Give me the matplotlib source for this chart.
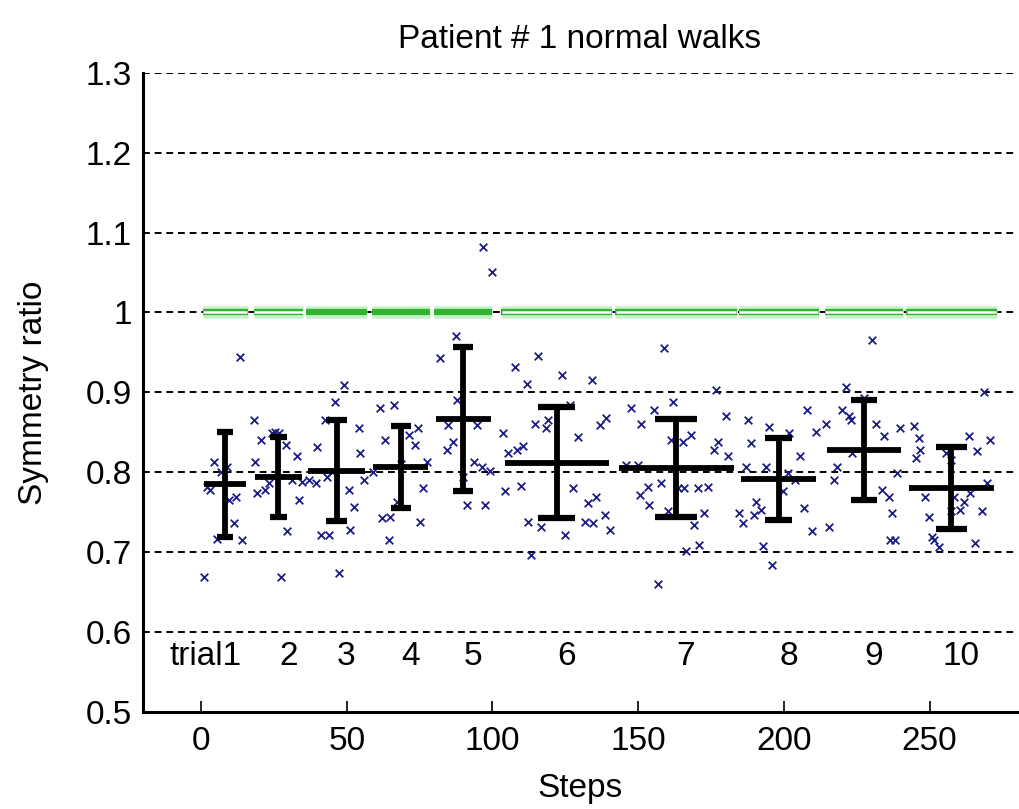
import matplotlib
matplotlib.use('Agg')
import matplotlib.pyplot as plt
import numpy as np

plt.rcParams['font.family'] = ['Liberation Sans Narrow', 'Liberation Sans', 'DejaVu Sans']

# per-step symmetry ratios, one line per trial
steps = [
    1, 2, 3, 4.5, 5.6, 7, 9, 9.6, 11.3, 11.9, 13.3, 13.9,
    18.2, 18.5, 19.3, 20.4, 22.1, 23.3, 24.4, 25.5, 26.7, 27.6, 29.0, 29.6, 31.3, 33.0, 33.6, 34.7,
    37, 39.3, 39.8, 41, 42.7, 43.3, 43.8, 45, 46.1, 47.3, 49, 50.7, 51.2, 52.4, 54.1, 54.7, 56,
    59, 61.5, 62.1, 63.2, 64.4, 65, 66.1, 67.2, 68.5, 71.2, 73.5, 74.6, 75.2, 76.3, 77.5,
    82, 84.3, 84.9, 86.6, 87.5, 87.7, 90, 91.2, 93.5, 94.6, 96.3, 96.9, 97.4, 99.1, 99.7,
    103.5, 104.3, 105.2, 107.7, 108.3, 109.8, 110.6, 111.7, 112.3, 113.2, 114.5, 115.5, 116.6, 118.5,
    119.1, 123.7, 124.8, 126.5, 127.7, 129.4, 131.7, 132.8, 134, 134.5, 135.7, 136.8, 138.5, 139, 140.2,
    146, 147.4, 150, 150.5, 151.1, 153.3, 153.8, 155.6, 156.8, 157.9, 159, 160.2, 161.3, 161.9, 163.6,
    165.3, 165.9, 166.3, 168.2, 169.3, 170.5, 171, 172.7, 173.9, 176.1, 176.7, 177.3, 180.2, 180.7,
    184.7, 185.9, 187, 187.6, 188.7, 189.8, 190.4, 192.1, 192.7, 193.9, 195, 196.1, 199.6, 201.4,
    201.8, 203.8, 205.5, 207, 208.1, 209.8, 211,
    214.4, 215.5, 217.2, 218.4, 220, 221.2, 222.4, 222.9, 223.5, 227.5, 230.3, 231.5, 233.8, 234.3,
    236, 236.4, 237.2, 238.1, 238.9, 240,
    244.6, 245.2, 246.3, 246.9, 248.4, 249.7, 250.9, 251.4, 253.1, 255.6, 257.2, 257.3, 258.3, 260.5,
    261.7, 263.4, 264, 265.7, 266.3, 268, 268.6, 269.7, 270.8,
]
ratios = [
    0.669, 0.782, 0.778, 0.813, 0.716, 0.800, 0.807, 0.765, 0.736, 0.769, 0.944, 0.715,
    0.865, 0.813, 0.774, 0.840, 0.778, 0.786, 0.849, 0.851, 0.849, 0.669, 0.834, 0.726, 0.790, 0.820, 0.765, 0.788,
    0.790, 0.786, 0.832, 0.722, 0.865, 0.794, 0.722, 0.800, 0.888, 0.674, 0.909, 0.778, 0.728, 0.757, 0.855, 0.824, 0.790,
    0.800, 0.880, 0.743, 0.840, 0.715, 0.744, 0.884, 0.763, 0.810, 0.847, 0.834, 0.855, 0.738, 0.780, 0.813,
    0.943, 0.828, 0.859, 0.838, 0.971, 0.890, 0.794, 0.759, 0.813, 0.859, 0.807, 1.082, 0.759, 0.801, 1.051,
    0.849, 0.776, 0.824, 0.932, 0.828, 0.783, 0.833, 0.911, 0.738, 0.697, 0.861, 0.946, 0.732, 0.855,
    0.865, 0.922, 0.722, 0.884, 0.780, 0.844, 0.738, 0.761, 0.915, 0.736, 0.769, 0.859, 0.747, 0.868, 0.728,
    0.809, 0.880, 0.809, 0.772, 0.861, 0.782, 0.759, 0.878, 0.660, 0.786, 0.956, 0.751, 0.840, 0.888, 0.780,
    0.838, 0.780, 0.701, 0.847, 0.734, 0.780, 0.709, 0.749, 0.782, 0.828, 0.903, 0.838, 0.870, 0.820,
    0.749, 0.736, 0.807, 0.865, 0.836, 0.747, 0.763, 0.753, 0.708, 0.807, 0.857, 0.684, 0.776, 0.799,
    0.849, 0.790, 0.820, 0.755, 0.878, 0.726, 0.851,
    0.860, 0.732, 0.790, 0.807, 0.878, 0.907, 0.870, 0.865, 0.824, 0.893, 0.966, 0.861, 0.778, 0.845,
    0.769, 0.715, 0.749, 0.715, 0.799, 0.855,
    0.858, 0.818, 0.843, 0.828, 0.769, 0.744, 0.719, 0.715, 0.707, 0.824, 0.815, 0.751, 0.769, 0.753,
    0.763, 0.845, 0.774, 0.712, 0.826, 0.752, 0.901, 0.786, 0.840,
]

trial_labels = ['trial1', '2', '3', '4', '5', '6', '7', '8', '9', '10']
trial_start = [0.5, 18, 36, 58.5, 80, 103, 142, 184.5, 214, 242]
trial_end = [16, 35, 57, 78.5, 100, 141, 184, 212, 241, 273]
trial_mean = [0.785, 0.794, 0.802, 0.807, 0.867, 0.812, 0.805, 0.792, 0.828, 0.780]
trial_sd = [0.066, 0.050, 0.0635, 0.0515, 0.090, 0.0695, 0.0615, 0.0515, 0.063, 0.0515]
solid_ref = [False, False, True, True, True, False, False, False, False, False]

fig = plt.figure(figsize=(10.2, 8.09), dpi=100)
ax = fig.add_axes([0.140, 0.120, 0.857, 0.790])

# horizontal dotted grid
for yv in np.arange(0.6, 1.31, 0.1):
    ax.axhline(yv, color='black', lw=1.4, ls=(0, (3.5, 2.5)), zorder=1)

ax.scatter(steps, ratios, marker='x', s=30, color='#1c1c86', linewidths=1.3, zorder=3)

for i in range(len(trial_labels)):
    s, e = trial_start[i], trial_end[i]
    c = (s + e) / 2.0
    L = e - s
    m, sd = trial_mean[i], trial_sd[i]

    # reference ratio of 1 over the trial
    ax.plot([s, e], [1.0, 1.0], color='#c8f0c8', lw=9, solid_capstyle='butt', zorder=2)
    ax.plot([s, e], [1.0, 1.0], color='#2fb52f', lw=4.5, solid_capstyle='butt', zorder=2)
    if not solid_ref[i]:
        ax.plot([s + 0.01 * L, e - 0.01 * L], [1.0, 1.0], color='white', lw=1.8,
                solid_capstyle='butt', zorder=2)

    # mean and standard deviation
    ax.plot([s + 0.03 * L, e - 0.03 * L], [m, m], color='black', lw=4.2, solid_capstyle='butt', zorder=4)
    ax.plot([c, c], [m - sd, m + sd], color='black', lw=4.2, solid_capstyle='butt', zorder=4)
    cap = 0.17 * L
    for yv in (m - sd, m + sd):
        ax.plot([c - cap, c + cap], [yv, yv], color='black', lw=4.5, solid_capstyle='butt', zorder=4)

    if i == 0:
        ax.text(c + 5.8, 0.569, trial_labels[i], ha='right', va='center', fontsize=24)
    else:
        ax.text(c + 3.4, 0.569, trial_labels[i], ha='center', va='center', fontsize=24)

ax.set_xlim(-20, 280)
ax.set_ylim(0.5, 1.3)
ax.set_xticks([0, 50, 100, 150, 200, 250])
ax.set_yticks(np.round(np.arange(0.5, 1.31, 0.1), 1))
ax.set_yticklabels(['0.5', '0.6', '0.7', '0.8', '0.9', '1', '1.1', '1.2', '1.3'])
ax.tick_params(direction='in', length=8, width=1.2, labelsize=24, pad=10)
ax.tick_params(axis='y', length=0, pad=8)

for side in ('top', 'right'):
    ax.spines[side].set_visible(False)
for side in ('left', 'bottom'):
    ax.spines[side].set_linewidth(2.2)

ax.set_title('Patient # 1 normal walks', fontsize=24, pad=18)
ax.set_xlabel('Steps', fontsize=24, labelpad=12)
ax.set_ylabel('Symmetry ratio', fontsize=24, labelpad=26)

fig.savefig('out.png', dpi=100)
